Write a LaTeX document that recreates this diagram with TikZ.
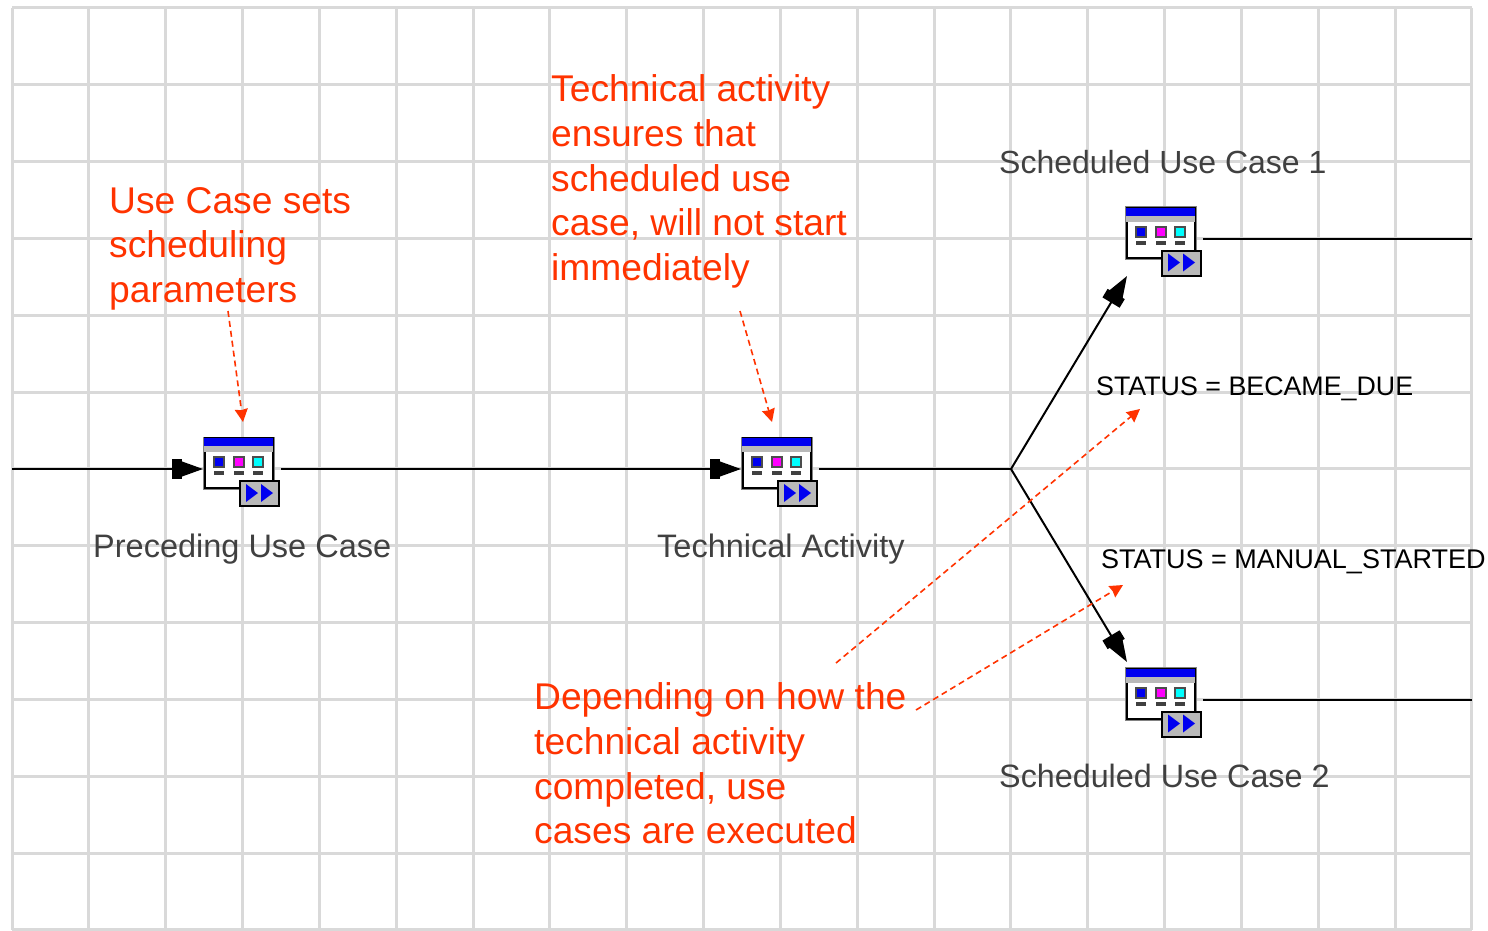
\documentclass[tikz,border=0pt]{standalone}
\usepackage{fontspec}
\setmainfont{Liberation Sans}
\usetikzlibrary{arrows.meta}
\definecolor{gridc}{RGB}{217,217,217}
\definecolor{redc}{RGB}{255,51,0}
\definecolor{iconblue}{RGB}{0,0,240}
\definecolor{icongray}{RGB}{185,185,185}
\definecolor{iconmag}{RGB}{255,0,255}
\definecolor{iconcyan}{RGB}{0,255,255}
\tikzset{
  gridline/.style={draw=gridc,line width=3pt},
  flow/.style={draw=black,line width=2pt},
  flowtip/.style={flow,-{Rectangle[length=10pt,width=20pt,sep=-2pt]Stealth[length=23pt,width=16pt,inset=0pt]}},
  note/.style={draw=redc,line width=1.6pt,dash pattern=on 6pt off 4pt,-{Stealth[length=13pt,width=13pt,inset=1pt,fill=redc]}},
  redtext/.style={anchor=north west,inner sep=0pt,align=left,text=redc,font=\fontsize{37.2}{44.7}\selectfont},
  statustext/.style={anchor=base west,inner sep=0pt,font=\fontsize{#1}{30}\selectfont},
  iconlabel/.style={anchor=base west,inner sep=0pt,text=black!75,font=\fontsize{#1}{36}\selectfont},
  iconbox/.style={draw=black,line width=2pt,fill=white,minimum width=68pt,minimum height=50pt,inner sep=0pt,outer sep=0pt}
}
\newcommand{\iconat}[3]{%
  \begin{scope}[shift={(#2,#3)}]
    \fill[icongray!70!black] (-1,-1.5) rectangle (71,52);
    \node[iconbox] (#1) at (34.5,25) {};
    \coordinate (#1-in) at (-1,31);
    \coordinate (#1-out) at (77,31);
    \fill[iconblue] (0,0) rectangle (69,8);
    \fill[icongray] (0,8) rectangle (69,14);
    \foreach \xx/\cc in {10/iconblue,30/iconmag,49/iconcyan}{
      \fill[black!70] (\xx-1,18) rectangle (\xx+11,30);
      \fill[\cc] (\xx+1,20) rectangle (\xx+9,28);
      \fill[black!75] (\xx,33) rectangle (\xx+10,37);
    }
    \draw[black,line width=2pt,fill=icongray] (36,43) rectangle (75,68);
    \fill[iconblue] (42,46) -- (54,55) -- (42,64) -- cycle;
    \fill[iconblue] (57,46) -- (69,55) -- (57,64) -- cycle;
  \end{scope}}
\begin{document}
\begin{tikzpicture}[x=1pt,y=-1pt]
\useasboundingbox (0,0) rectangle (1488,931);
\fill[white] (0,0) rectangle (1488,931);
% grid
\foreach \i in {0,...,19}{\draw[gridline] ({12+\i*76.84},8) -- ({12+\i*76.84},930);}
\foreach \j in {0,...,12}{\draw[gridline] (12,{8+\j*76.83}) -- (1472,{8+\j*76.83});}
% icons
\iconat{puc}{204}{438}
\iconat{tec}{742}{438}
\iconat{sa}{1126}{207.5}
\iconat{sb}{1126}{668.5}
% free ends
\coordinate (start) at (12,469);
\coordinate (fork) at (1011,469);
\coordinate (endA) at (1472,238.5);
\coordinate (endB) at (1472,699.5);
\coordinate (tipA) at (1127,276);
\coordinate (tipB) at (1127,662);
% connectors
\draw[flowtip] (start) -- (puc-in);
\draw[flowtip] (puc-out) -- (tec-in);
\draw[flow] (tec-out) -- (fork);
\draw[flowtip] (fork) -- (tipA);
\draw[flowtip] (fork) -- (tipB);
\draw[flow] (sa-out) -- (endA);
\draw[flow] (sb-out) -- (endB);
% labels
\node[iconlabel=32.5] (l1) at (93,557) {Preceding Use Case};
\node[iconlabel=32.5] (l2) at (657,557) {Technical Activity};
\node[iconlabel=32] (l3) at (999,173) {Scheduled Use Case 1};
\node[iconlabel=32.3] (l4) at (999,787) {Scheduled Use Case 2};
\node[statustext=26.8] (s1) at (1096,395) {STATUS = BECAME\_DUE};
\node[statustext=27] (s2) at (1101,568) {STATUS = MANUAL\_STARTED};
% notes
\node[redtext] (n1) at (109,187) {Use Case sets\\scheduling\\parameters};
\node[redtext] (n2) at (551,74.5) {Technical activity\\ensures that\\scheduled use\\case, will not start\\immediately};
\node[redtext] (n3) at (534,682.5) {Depending on how the\\technical activity\\completed, use\\cases are executed};
% note arrows
\coordinate (a1s) at (228,311); \coordinate (a1e) at (243,422);
\coordinate (a2s) at (740,311); \coordinate (a2e) at (772,422);
\coordinate (a3s) at (836,663); \coordinate (a3e) at (1140,409);
\coordinate (a4s) at (916,710); \coordinate (a4e) at (1123,585);
\draw[note] (a1s) -- (a1e);
\draw[note] (a2s) -- (a2e);
\draw[note] (a3s) -- (a3e);
\draw[note] (a4s) -- (a4e);
\end{tikzpicture}
\end{document}
